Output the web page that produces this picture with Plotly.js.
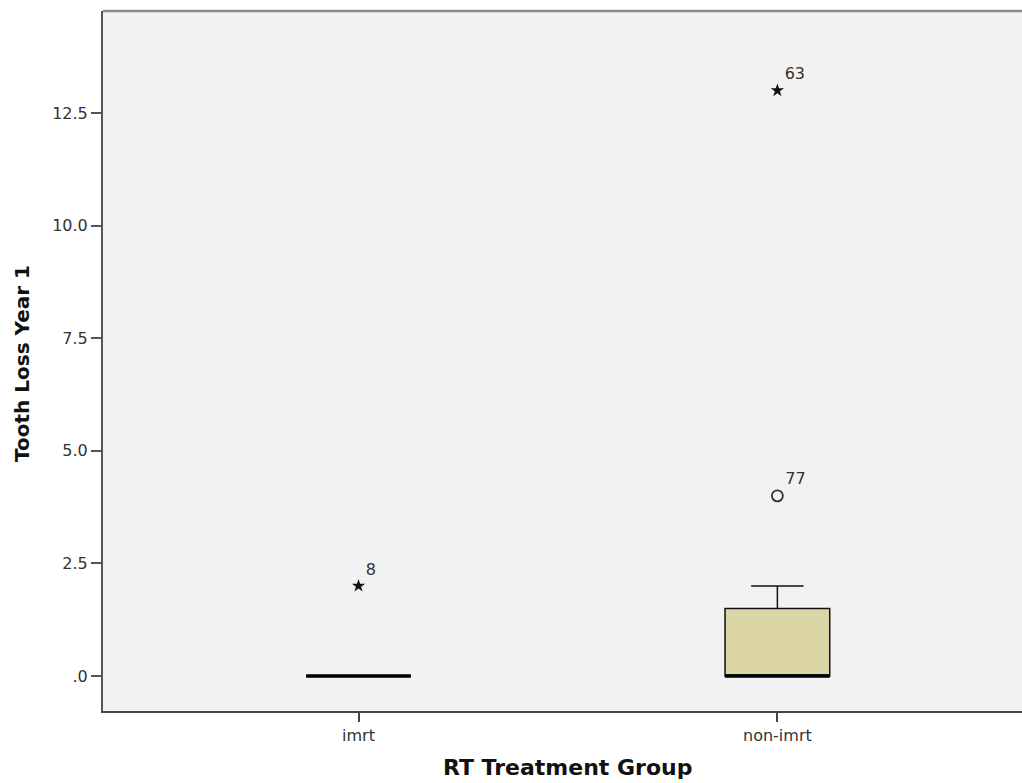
<!DOCTYPE html>
<html>
<head>
<meta charset="utf-8">
<script src="https://cdn.plot.ly/plotly-3.0.1.min.js"></script>
<style>html,body{margin:0;padding:0;background:#fff;}#chart{width:1022px;height:783px;}</style>
</head>
<body>
<div id="chart"></div>
<script>
// ---- data ----
const groups = ['imrt', 'non-imrt'];
const q1 = [0, 0];
const median = [0, 0];
const q3 = [0, 1.5];
const lowerWhisker = [0, 0];
const upperWhisker = [0, 2];

const outlierGroup = ['imrt', 'non-imrt', 'non-imrt'];
const outlierValue = [2, 4, 13];
const outlierCase = ['8', '77', '63'];
const outlierKind = ['extreme', 'mild', 'extreme'];

const yTickVals = [0, 2.5, 5, 7.5, 10, 12.5];
const yTickText = ['.0', '2.5', '5.0', '7.5', '10.0', '12.5'];

const xTitle = 'RT Treatment Group';
const yTitle = 'Tooth Loss Year 1';

// ---- build traces ----
function pick(kind) {
  const x = [], y = [], t = [];
  outlierKind.forEach((k, i) => {
    if (k === kind) { x.push(outlierGroup[i]); y.push(outlierValue[i]); t.push(outlierCase[i]); }
  });
  return {x, y, t};
}
const ext = pick('extreme');
const mild = pick('mild');

const tickFont = {family: 'DejaVu Sans, sans-serif', size: 16, color: '#333'};

const traces = [
  {
    type: 'box', x: groups, q1: q1, median: median, q3: q3,
    lowerfence: lowerWhisker, upperfence: upperWhisker,
    width: 0.25, whiskerwidth: 0.5, boxpoints: false,
    fillcolor: '#dbd5a6', line: {color: '#111', width: 1.5},
    hoverinfo: 'skip', showlegend: false
  },
  {
    type: 'box', x: groups, q1: median, median: median, q3: median,
    lowerfence: median, upperfence: median,
    width: 0.25, whiskerwidth: 0, boxpoints: false,
    fillcolor: 'rgba(0,0,0,0)', line: {color: '#000', width: 3.5},
    hoverinfo: 'skip', showlegend: false
  },
  {
    type: 'scatter', mode: 'markers+text', x: ext.x, y: ext.y, text: ext.t,
    textposition: 'top right', textfont: tickFont,
    marker: {symbol: 'star', size: 10, color: '#111', line: {width: 0}},
    cliponaxis: false, showlegend: false, hoverinfo: 'skip'
  },
  {
    type: 'scatter', mode: 'markers+text', x: mild.x, y: mild.y, text: mild.t,
    textposition: 'top right', textfont: tickFont,
    marker: {symbol: 'circle-open', size: 11, color: '#333', line: {width: 1.8, color: '#333'}},
    cliponaxis: false, showlegend: false, hoverinfo: 'skip'
  }
];

const layout = {
  width: 1022, height: 783,
  margin: {l: 103, r: 0, t: 11, b: 72},
  paper_bgcolor: '#ffffff',
  plot_bgcolor: '#f2f2f2',
  showlegend: false,
  boxmode: 'overlay',
  font: {family: 'DejaVu Sans, sans-serif', size: 16, color: '#333'},
  xaxis: {
    type: 'category', categoryorder: 'array', categoryarray: groups,
    range: [-0.610, 1.584], fixedrange: true,
    showgrid: false, zeroline: false,
    showline: true, linecolor: '#444', linewidth: 2,
    ticks: 'outside', ticklen: 9, tickwidth: 2, tickcolor: '#444',
    tickfont: tickFont
  },
  yaxis: {
    range: [-0.777, 14.765], fixedrange: true,
    showgrid: false, zeroline: false,
    showline: true, linecolor: '#555', linewidth: 2,
    ticks: 'outside', ticklen: 10, tickwidth: 2, tickcolor: '#555',
    tickmode: 'array', tickvals: yTickVals, ticktext: yTickText,
    tickfont: tickFont
  },
  shapes: [
    {type: 'line', xref: 'paper', yref: 'paper', x0: 0, x1: 1, y0: 1, y1: 1,
     line: {color: '#8c8c8c', width: 2.5}}
  ],
  annotations: [
    {text: xTitle, xref: 'paper', yref: 'paper', x: 0.505, y: -0.0814,
     xanchor: 'center', yanchor: 'middle', showarrow: false,
     font: {family: 'DejaVu Sans, sans-serif', size: 22, color: '#111', weight: 'bold'}},
    {text: yTitle, xref: 'paper', yref: 'paper', x: -0.088, y: 0.496,
     xanchor: 'center', yanchor: 'middle', showarrow: false, textangle: -90,
     font: {family: 'DejaVu Sans, sans-serif', size: 20, color: '#111', weight: 'bold'}}
  ]
};

Plotly.newPlot('chart', traces, layout, {displayModeBar: false, staticPlot: true});
</script>
</body>
</html>
